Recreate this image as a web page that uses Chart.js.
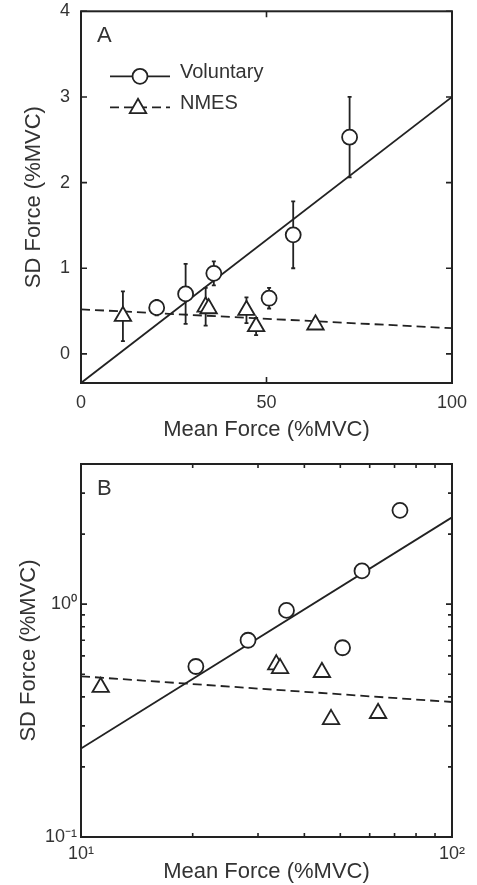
<!DOCTYPE html>
<html>
<head>
<meta charset="utf-8">
<script src="https://cdn.jsdelivr.net/npm/chart.js@4.4.1/dist/chart.umd.min.js"></script>
<style>
  html, body { margin: 0; padding: 0; background: #fff; }
  #wrap { position: relative; width: 477px; height: 885px; }
  canvas { position: absolute; left: 0; }
  #chartA { top: 0; }
  #chartB { top: 442px; }
</style>
</head>
<body>
<div id="wrap">
  <canvas id="chartA" width="477" height="442"></canvas>
  <canvas id="chartB" width="477" height="443"></canvas>
</div>
<script>
// Mean force (%MVC) and SD force (%MVC)
const volX = [20.4, 28.2, 35.8, 50.7, 57.2, 72.4];
const volY = [0.54, 0.70, 0.94, 0.65, 1.39, 2.53];
const volErr = [0.09, 0.35, 0.14, 0.12, 0.39, 0.47];

const nmesX = [11.3, 33.6, 34.4, 44.6, 47.2, 63.2];
const nmesY = [0.44, 0.55, 0.53, 0.51, 0.32, 0.34];
const nmesErr = [0.29, 0.22, 0.05, 0.15, 0.10, 0.03];

// regression lines, linear (A) and log-log (B)
const fitX = [0, 100];
const volFitA = [-0.34, 3.0];
const nmesFitA = [0.52, 0.30];
const fitLogX = [10, 100];
const volFitB = [0.24, 2.36];
const nmesFitB = [0.49, 0.38];

// tick positions
const xTicksA = [0, 50, 100];
const yTicksA = [0, 1, 2, 3, 4];
const xTicksB = [10, 20, 30, 40, 50, 60, 70, 80, 90, 100];
const yTicksB = [0.1, 0.2, 0.3, 0.4, 0.5, 0.6, 0.7, 0.8, 0.9, 1, 2, 3, 4];

const ink = "#222";
const textCol = "#333";
const fontFam = "'Liberation Sans', Arial, Helvetica, sans-serif";

function pts(xs, ys) {
  return xs.map((x, i) => ({ x: x, y: ys[i] }));
}

const sup = { "0": "\u2070", "1": "\u00b9", "2": "\u00b2", "-": "\u207b" };
function powLabel(v) {
  const e = Math.log10(v);
  if (Math.abs(e - Math.round(e)) > 1e-6) return "";
  return "10" + String(Math.round(e)).split("").map(c => sup[c]).join("");
}

function drawCircle(ctx, x, y, r) {
  ctx.beginPath();
  ctx.arc(x, y, r, 0, Math.PI * 2);
  ctx.fill();
  ctx.stroke();
}

function drawTri(ctx, x, y, r) {
  ctx.beginPath();
  for (let k = 0; k < 3; k++) {
    const a = k * 2 * Math.PI / 3;
    const px = x + Math.sin(a) * r;
    const py = y - Math.cos(a) * r;
    if (k === 0) ctx.moveTo(px, py); else ctx.lineTo(px, py);
  }
  ctx.closePath();
  ctx.fill();
  ctx.stroke();
}

// box frame with inward ticks, error bars, legend and panel letter
const frameTicks = {
  id: "frameTicks",
  beforeDatasetsDraw(chart, args, opts) {
    if (!opts.errors) return;
    const ctx = chart.ctx;
    const xs = chart.scales.x, ys = chart.scales.y;
    ctx.save();
    ctx.strokeStyle = ink;
    ctx.lineWidth = 1.8;
    opts.errors.forEach(set => {
      set.x.forEach((xv, i) => {
        const px = xs.getPixelForValue(xv);
        const top = ys.getPixelForValue(set.y[i] + set.e[i]);
        const bot = ys.getPixelForValue(set.y[i] - set.e[i]);
        ctx.beginPath();
        ctx.moveTo(px, top);
        ctx.lineTo(px, bot);
        ctx.moveTo(px - 2, top);
        ctx.lineTo(px + 2, top);
        ctx.moveTo(px - 2, bot);
        ctx.lineTo(px + 2, bot);
        ctx.stroke();
      });
    });
    ctx.restore();
  },
  afterDraw(chart, args, opts) {
    const ctx = chart.ctx;
    const a = chart.chartArea;
    const xs = chart.scales.x, ys = chart.scales.y;
    ctx.save();
    ctx.strokeStyle = ink;
    ctx.lineWidth = 2;
    ctx.strokeRect(a.left, a.top, a.right - a.left, a.bottom - a.top);

    ctx.lineWidth = 1.6;
    opts.xTicks.forEach(v => {
      const px = xs.getPixelForValue(v);
      const len = powLabel(v) || !opts.log ? 6 : 4;
      ctx.beginPath();
      ctx.moveTo(px, a.bottom); ctx.lineTo(px, a.bottom - len);
      ctx.moveTo(px, a.top); ctx.lineTo(px, a.top + len);
      ctx.stroke();
    });
    opts.yTicks.forEach(v => {
      const py = ys.getPixelForValue(v);
      const len = powLabel(v) || !opts.log ? 6 : 4;
      ctx.beginPath();
      ctx.moveTo(a.left, py); ctx.lineTo(a.left + len, py);
      ctx.moveTo(a.right, py); ctx.lineTo(a.right - len, py);
      ctx.stroke();
    });

    ctx.fillStyle = textCol;
    ctx.font = "22px " + fontFam;
    ctx.textAlign = "left";
    ctx.textBaseline = "middle";
    ctx.fillText(opts.letter, a.left + 16, a.top + 25);

    if (opts.legend) {
      const rows = [
        { ds: chart.data.datasets[0], y: a.top + 65, dash: [], mark: "circle" },
        { ds: chart.data.datasets[1], y: a.top + 96, dash: [9, 5], mark: "tri" }
      ];
      rows.forEach(r => {
        ctx.strokeStyle = ink;
        ctx.lineWidth = 1.8;
        ctx.setLineDash(r.dash);
        ctx.beginPath();
        ctx.moveTo(a.left + 29, r.y);
        ctx.lineTo(a.left + 89, r.y);
        ctx.stroke();
        ctx.setLineDash([]);
        ctx.fillStyle = "#fff";
        if (r.mark === "circle") drawCircle(ctx, a.left + 59, r.y, 7.5);
        else drawTri(ctx, a.left + 57, r.y + 1, 9.5);
        ctx.fillStyle = textCol;
        ctx.font = "20px " + fontFam;
        ctx.fillText(r.ds.label, a.left + 99, r.y - 4);
      });
    }
    ctx.restore();
  }
};

function pointSet(label, data, style, radius) {
  return {
    label: label,
    data: data,
    showLine: false,
    pointStyle: style,
    pointRadius: radius,
    pointHoverRadius: radius,
    pointBackgroundColor: "#fff",
    pointBorderColor: ink,
    pointBorderWidth: 1.8
  };
}

function fitSet(label, data, dash) {
  return {
    label: label,
    data: data,
    showLine: true,
    borderColor: ink,
    borderWidth: 1.8,
    borderDash: dash,
    pointRadius: 0,
    fill: false
  };
}

function axisTitle(text, pad) {
  return { display: true, text: text, color: textCol, font: { family: fontFam, size: 22, lineHeight: 1 }, padding: pad };
}

const tickFont = { family: fontFam, size: 18 };

function fixY(s) {
  s.width = 81;
  s.paddingTop = 0;
  s.paddingBottom = 0;
}

new Chart(document.getElementById("chartA"), {
  type: "scatter",
  data: {
    datasets: [
      pointSet("Voluntary", pts(volX, volY), "circle", 7.5),
      pointSet("NMES", pts(nmesX, nmesY), "triangle", 9.5),
      fitSet("Voluntary fit", pts(fitX, volFitA), []),
      fitSet("NMES fit", pts(fitX, nmesFitA), [9, 5])
    ]
  },
  options: {
    responsive: false,
    animation: false,
    devicePixelRatio: 1,
    layout: { padding: { left: 0, right: 25, top: 10, bottom: 0 } },
    plugins: {
      legend: { display: false },
      tooltip: { enabled: false },
      frameTicks: {
        letter: "A",
        legend: true,
        xTicks: xTicksA,
        yTicks: yTicksA,
        errors: [
          { x: volX, y: volY, e: volErr },
          { x: nmesX, y: nmesY, e: nmesErr }
        ]
      }
    },
    scales: {
      x: {
        type: "linear",
        min: 0,
        max: 100,
        grid: { display: false, drawTicks: false },
        border: { display: false },
        ticks: { stepSize: 50, font: tickFont, color: textCol, padding: 9, maxRotation: 0 },
        title: axisTitle("Mean Force (%MVC)", { top: 0, bottom: 1 }),
        afterFit(s) { s.height = 59; }
      },
      y: {
        type: "linear",
        min: -0.34,
        max: 4,
        grid: { display: false, drawTicks: false },
        border: { display: false },
        ticks: { stepSize: 1, includeBounds: false, font: tickFont, color: textCol, padding: 11 },
        title: axisTitle("SD Force (%MVC)", { top: 23, bottom: 0 }),
        afterFit: fixY
      }
    }
  },
  plugins: [frameTicks]
});

new Chart(document.getElementById("chartB"), {
  type: "scatter",
  data: {
    datasets: [
      pointSet("Voluntary", pts(volX, volY), "circle", 7.5),
      pointSet("NMES", pts(nmesX, nmesY), "triangle", 9.5),
      fitSet("Voluntary fit", pts(fitLogX, volFitB), []),
      fitSet("NMES fit", pts(fitLogX, nmesFitB), [9, 5])
    ]
  },
  options: {
    responsive: false,
    animation: false,
    devicePixelRatio: 1,
    layout: { padding: { left: 0, right: 25, top: 22, bottom: 0 } },
    plugins: {
      legend: { display: false },
      tooltip: { enabled: false },
      frameTicks: { letter: "B", legend: false, log: true, xTicks: xTicksB, yTicks: yTicksB }
    },
    scales: {
      x: {
        type: "logarithmic",
        min: 10,
        max: 100,
        grid: { display: false, drawTicks: false },
        border: { display: false },
        ticks: { autoSkip: false, maxRotation: 0, font: tickFont, color: textCol, padding: 6, callback: v => powLabel(v) },
        title: axisTitle("Mean Force (%MVC)", { top: 0, bottom: 2 }),
        afterFit(s) { s.height = 48; }
      },
      y: {
        type: "logarithmic",
        min: 0.1,
        max: 4,
        grid: { display: false, drawTicks: false },
        border: { display: false },
        ticks: { autoSkip: false, font: tickFont, color: textCol, padding: 4, callback: v => powLabel(v) },
        title: axisTitle("SD Force (%MVC)", { top: 18, bottom: 0 }),
        afterFit: fixY
      }
    }
  },
  plugins: [frameTicks]
});
</script>
</body>
</html>
